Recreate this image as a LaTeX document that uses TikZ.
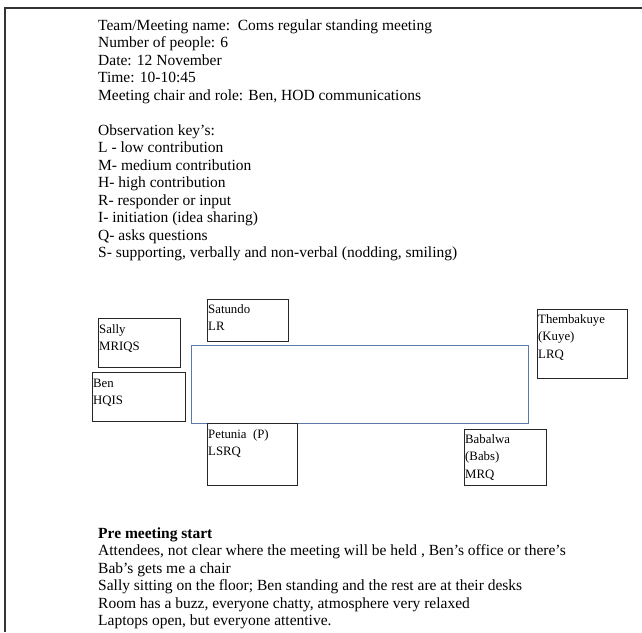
\documentclass[tikz,border=0pt]{standalone}
\usepackage{fontspec}
\setmainfont{Liberation Serif}
\begin{document}
\begin{tikzpicture}[x=1pt,y=-1pt,
  % multi-line texts are placed by the baseline of their last line
  body/.style={anchor=base west,inner sep=0pt,align=left,
    font=\fontsize{15.5}{17.5}\selectfont},
  seat/.style={draw=black!85,line width=0.9pt,inner sep=0pt},
  seatlabel/.style={anchor=base west,inner sep=0pt,align=left,
    font=\fontsize{12.8}{17.5}\selectfont},
  tablebox/.style={draw={rgb,255:red,92;green,120;blue,168},line width=0.9pt,inner sep=0pt}]
\useasboundingbox (0,0) rectangle (642,632);

% page edge
\coordinate (pgcorner) at (5,8);
\coordinate (pgright) at (642,8);
\coordinate (pgbottom) at (5,632);
\draw[black!80,line width=1.4pt] (pgright) -- (pgcorner) -- (pgbottom);

% meeting details and observation key
\node[body] (header) at (98,257.5) {Team/Meeting name:\ \ Coms regular standing meeting\\
Number of people: 6\\
Date: 12 November\\
Time: 10-10:45\\
Meeting chair and role: Ben, HOD communications\\
\strut\\
Observation key’s:\\
L - low contribution\\
M- medium contribution\\
H- high contribution\\
R- responder or input\\
I- initiation (idea sharing)\\
Q- asks questions\\
S- supporting, verbally and non-verbal (nodding, smiling)};

% table in the middle of the room
\draw[tablebox] (191,345) rectangle (528,423);
\node[inner sep=0pt] (table) at (359.5,384) {};

% seats
\node[seat,anchor=north west,minimum width=81pt,minimum height=42pt] (satundo) at (207,299) {};
\node[seatlabel] (satundoL) at (208,330.5) {Satundo\\LR};

\node[seat,anchor=north west,minimum width=82pt,minimum height=49pt] (sally) at (98,318) {};
\node[seatlabel] (sallyL) at (99,350.5) {Sally\\MRIQS};

\node[seat,anchor=north west,minimum width=93pt,minimum height=49pt] (ben) at (92,372) {};
\node[seatlabel] (benL) at (93,404.5) {Ben\\HQIS};

\node[seat,anchor=north west,minimum width=90pt,minimum height=62pt] (petunia) at (207,423) {};
\node[seatlabel] (petuniaL) at (208,455.5) {Petunia\ \ (P)\\LSRQ};

\node[seat,anchor=north west,minimum width=90pt,minimum height=69pt] (kuye) at (537,309) {};
\node[seatlabel] (kuyeL) at (538,358) {Thembakuye\\(Kuye)\\LRQ};

\node[seat,anchor=north west,minimum width=82pt,minimum height=56pt] (babs) at (464,429) {};
\node[seatlabel] (babsL) at (465,478) {Babalwa\\(Babs)\\MRQ};

% notes before the meeting
\node[body] (notes) at (98,625.5) {\textbf{Pre meeting start}\\
Attendees, not clear where the meeting will be held , Ben’s office or there’s\\
Bab’s gets me a chair\\
Sally sitting on the floor; Ben standing and the rest are at their desks\\
Room has a buzz, everyone chatty, atmosphere very relaxed\\
Laptops open, but everyone attentive.};
\end{tikzpicture}
\end{document}
